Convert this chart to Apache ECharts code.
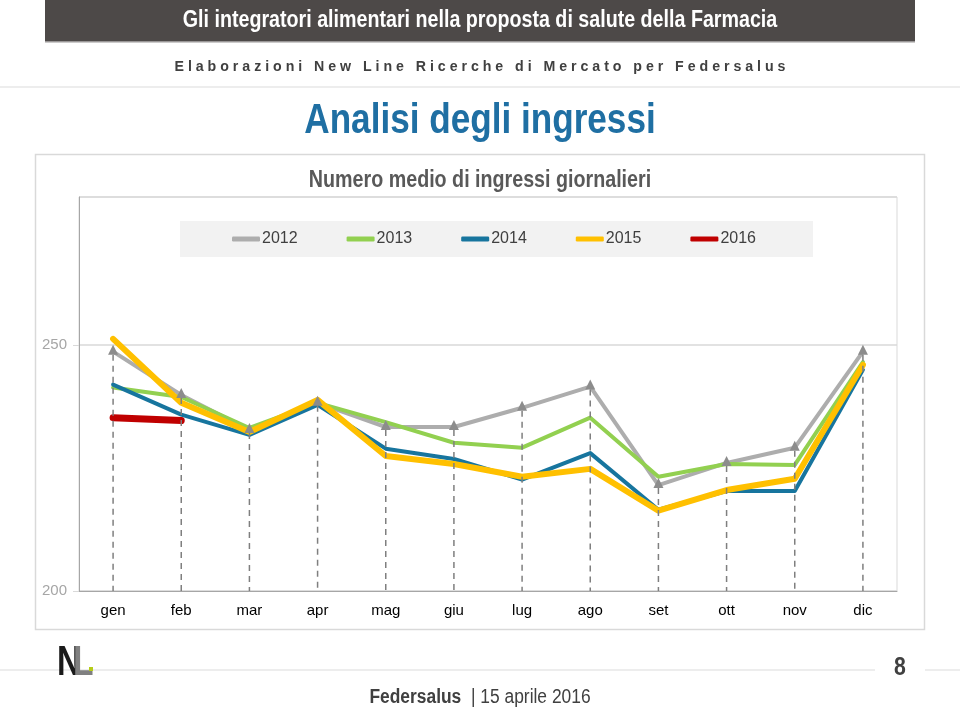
<!DOCTYPE html>
<html><head><meta charset="utf-8">
<script src="https://cdn.jsdelivr.net/npm/echarts@6/dist/echarts.min.js"></script>
<style>html,body{margin:0;padding:0;background:#fff}#c{width:960px;height:709px}</style>
</head><body><div id="c"></div>
<script>
const months = ['gen','feb','mar','apr','mag','giu','lug','ago','set','ott','nov','dic'];
const years = ['2012','2013','2014','2015','2016'];
const v2012 = [248.6, 239.8, 232.7, 238.2, 233.3, 233.3, 237.2, 241.5, 221.5, 226.0, 229.1, 248.6];
const v2013 = [241.3, 239.4, 233.1, 238.2, 234.3, 230.1, 229.1, 235.2, 223.2, 225.8, 225.6, 246.5];
const v2014 = [241.9, 235.8, 231.7, 237.8, 228.9, 226.8, 222.6, 228.0, 216.5, 220.3, 220.3, 244.9];
const v2015 = [251.2, 238.2, 232.3, 238.8, 227.4, 225.8, 223.2, 224.8, 216.3, 220.5, 222.8, 245.9];
const v2016 = [235.2, 234.6];
const yTicks = [200, 250];

const FONT = "'Liberation Sans',Arial,sans-serif";
const colors = ['#ADADAD','#92D050','#17759E','#FFC000','#C00000'];
const widths = [4,4,4,6,7];
const seriesData = [v2012, v2013, v2014, v2015, v2016];

const chart = echarts.init(document.getElementById('c'), null, {renderer:'canvas'});
const lineSeries = years.map((y,i)=>({
  name: y, type:'line', data: seriesData[i], symbol:'none', z: 2+i,
  lineStyle:{color:colors[i], width:widths[i], cap:'round', join:'round'},
  itemStyle:{color:colors[i]}
}));
const spaced = s => s.split(' ').map(w=>w.split('').join(' ')).join('   ');

chart.setOption({
  animation:false,
  backgroundColor:'#fff',
  legend:{data:years.map((y,i)=>({name:y, icon:'roundRect', itemStyle:{color:colors[i]}})),
    left:180, top:221, padding:[10,57,10,52], itemGap:49, itemWidth:28, itemHeight:5,
    backgroundColor:'#F2F2F2', textStyle:{fontFamily:FONT, fontSize:16, color:'#404040', padding:[0,0,0,-3]}},
  grid:{left:79, right:63, top:197, bottom:118, show:true, borderColor:'#D9D9D9', borderWidth:1},
  xAxis:{type:'category', data:months,
    axisLine:{lineStyle:{color:'#A6A6A6', width:1}},
    axisTick:{length:5, lineStyle:{color:'#A6A6A6'}},
    axisLabel:{color:'#000', fontFamily:FONT, fontSize:15, margin:12}},
  yAxis:{type:'value', min:200, max:280, interval:50,
    axisLine:{show:true, lineStyle:{color:'#A6A6A6'}},
    axisTick:{show:true, length:6, lineStyle:{color:'#D9D9D9'}},
    axisLabel:{color:'#A6A6A6', fontFamily:FONT, fontSize:15, margin:12, showMaxLabel:false,
      formatter: v => yTicks.includes(v) ? String(v) : ''},
    splitLine:{lineStyle:{color:'#D9D9D9', width:1.5}}},
  series: lineSeries.concat([{
    type:'custom', name:'drop', z:10, silent:true,
    data: v2012.map((v,i)=>[i,v]),
    encode:{x:0,y:1},
    renderItem:(params, api)=>{
      const p = api.coord([api.value(0), api.value(1)]);
      const b = api.coord([api.value(0), 200]);
      return {type:'group', children:[
        {type:'line', shape:{x1:p[0],y1:p[1]+3,x2:b[0],y2:b[1]}, style:{stroke:'#7F7F7F', lineWidth:1.5, lineDash:[6,5]}},
        {type:'polygon', shape:{points:[[p[0],p[1]-7],[p[0]-5,p[1]+3],[p[0]+5,p[1]+3]]}, style:{fill:'#8C8C8C'}}
      ]};
    }
  }]),
  graphic:[
    {type:'rect', shape:{x:45,y:0,width:870,height:42}, style:{fill:'#4D4948'}, z:-1},
    {type:'rect', shape:{x:45,y:41,width:870,height:1.5}, style:{fill:'#9A9797'}, z:-1},
    {type:'text', x:480, y:21, scaleX:0.855, style:{text:'Gli integratori alimentari nella proposta di salute della Farmacia',
      fill:'#fff', font:"bold 23px "+FONT, align:'center', verticalAlign:'middle'}},
    {type:'text', x:480, y:67, style:{text:spaced('Elaborazioni New Line Ricerche di Mercato per Federsalus'),
      fill:'#404040', font:"bold 14.2px "+FONT, align:'center', verticalAlign:'middle'}},
    {type:'rect', shape:{x:0,y:86,width:960,height:2}, style:{fill:'#EDEDED'}, z:-1},
    {type:'text', x:480, y:121, scaleX:0.817, style:{text:'Analisi degli ingressi', fill:'#1F6FA3',
      font:"bold 43px "+FONT, align:'center', verticalAlign:'middle'}},
    {type:'text', x:480, y:180, scaleX:0.82, style:{text:'Numero medio di ingressi giornalieri', fill:'#595959',
      font:"bold 24px "+FONT, align:'center', verticalAlign:'middle'}},
    {type:'rect', shape:{x:35.5,y:154.5,width:889,height:475}, style:{fill:'none', stroke:'#D9D9D9', lineWidth:1.5}, z:-1},
    {type:'rect', shape:{x:0,y:669,width:875,height:2}, style:{fill:'#EDEDED'}, z:-1},
    {type:'rect', shape:{x:925,y:669,width:35,height:2}, style:{fill:'#EDEDED'}, z:-1},
    {type:'text', x:900, y:668, scaleX:0.85, style:{text:'8', fill:'#404040', font:"bold 25px "+FONT, align:'center', verticalAlign:'middle'}},
    {type:'text', x:57, y:663, scaleX:0.78, style:{text:'N', fill:'#1A1A1A', font:"bold 42px "+FONT, verticalAlign:'middle'}},
    {type:'text', x:73, y:663, scaleX:0.8, style:{text:'L', fill:'#808080', font:"bold 42px "+FONT, verticalAlign:'middle'}},
    {type:'rect', shape:{x:89,y:667,width:4,height:4}, style:{fill:'#B5CC18'}, z:10},
    {type:'text', x:480, y:697, scaleX:0.87, style:{rich:{b:{font:"bold 20px "+FONT, fill:'#404040'}, n:{font:"20px "+FONT, fill:'#404040'}},
      text:'{b|Federsalus}{n|  | 15 aprile 2016}', align:'center', verticalAlign:'middle'}}
  ]
});
</script></body></html>
